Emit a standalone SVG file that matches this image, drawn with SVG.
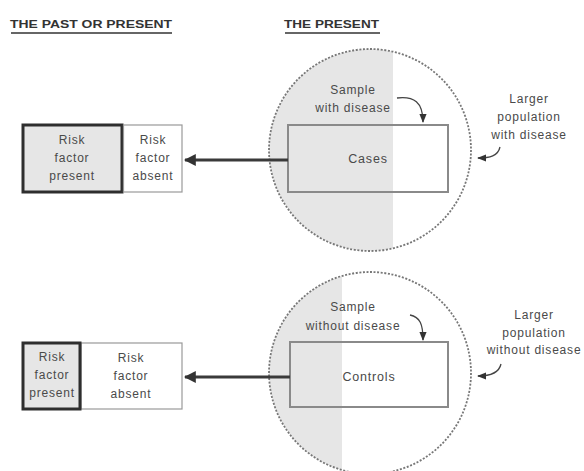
<svg xmlns="http://www.w3.org/2000/svg" width="584" height="471" viewBox="0 0 584 471">
  <style>
    .hdr { font-family: "Liberation Sans", Arial, sans-serif; font-weight: bold; font-size: 10.5px; fill: #333; }
    .ul { stroke: #666; stroke-width: 2; }
    .lbl { font-family: "Liberation Sans", Arial, sans-serif; font-size: 12px; letter-spacing: 0.8px; fill: #4a4a4a; text-anchor: middle; }
    .big { font-size: 12.5px; }
    .pop { fill: none; stroke: #777; stroke-width: 1.8; stroke-dasharray: 2 1.6; }
    .samp { fill: none; stroke: #8a8a8a; stroke-width: 2; }
    .thick { fill: #e6e6e6; stroke: #2e2e2e; stroke-width: 3; }
    .thin { fill: #fff; stroke: #999; stroke-width: 1.2; }
    .link { stroke: #3a3a3a; stroke-width: 3; fill: none; }
    .curve { stroke: #444; stroke-width: 1.3; fill: none; }
  </style>
  <defs>
    <marker id="head" viewBox="0 0 10 10" refX="9" refY="5" markerWidth="4" markerHeight="4" orient="auto">
      <path d="M0,0 L10,5 L0,10 z" fill="#333"/>
    </marker>
    <marker id="tip" viewBox="0 0 10 10" refX="9" refY="5" markerWidth="7" markerHeight="7" orient="auto">
      <path d="M0,1 L10,5 L0,9 z" fill="#333"/>
    </marker>
    <clipPath id="c1"><circle cx="370" cy="150" r="101"/></clipPath>
    <clipPath id="c2"><circle cx="370" cy="373" r="101"/></clipPath>
  </defs>

  <!-- column headings -->
  <g id="heading-past">
    <text class="hdr" x="10" y="28" textLength="162" lengthAdjust="spacingAndGlyphs">THE PAST OR PRESENT</text>
    <line class="ul" x1="11" y1="33" x2="172" y2="33"/>
  </g>
  <g id="heading-present">
    <text class="hdr" x="284" y="28" textLength="95" lengthAdjust="spacingAndGlyphs">THE PRESENT</text>
    <line class="ul" x1="285" y1="33" x2="380" y2="33"/>
  </g>

  <!-- population with disease -->
  <g id="pop-disease">
    <circle cx="370" cy="150" r="101" fill="#fff"/>
    <rect x="260" y="40" width="133" height="220" fill="#e6e6e6" clip-path="url(#c1)"/>
    <circle class="pop" cx="370" cy="150" r="101"/>
    <text class="lbl" x="353" y="94">Sample</text>
    <text class="lbl" x="353" y="112">with disease</text>
  </g>
  <g id="cases">
    <rect class="samp" x="288" y="125" width="160" height="67" fill="none"/>
    <text class="lbl big" x="368" y="163">Cases</text>
  </g>
  <g id="label-larger-disease">
    <text class="lbl" x="529" y="103">Larger</text>
    <text class="lbl" x="529" y="121">population</text>
    <text class="lbl" x="529" y="139">with disease</text>
  </g>

  <!-- population without disease -->
  <g id="pop-no-disease">
    <circle cx="370" cy="373" r="101" fill="#fff"/>
    <rect x="260" y="260" width="82" height="220" fill="#e6e6e6" clip-path="url(#c2)"/>
    <circle class="pop" cx="370" cy="373" r="101"/>
    <text class="lbl" x="353" y="311">Sample</text>
    <text class="lbl" x="353" y="330">without disease</text>
  </g>
  <g id="controls">
    <rect class="samp" x="290" y="342" width="158" height="65" fill="none"/>
    <text class="lbl big" x="369" y="381">Controls</text>
  </g>
  <g id="label-larger-no-disease">
    <text class="lbl" x="534" y="319">Larger</text>
    <text class="lbl" x="534" y="337">population</text>
    <text class="lbl" x="534" y="354">without disease</text>
  </g>

  <!-- exposure boxes, cases -->
  <g id="cases-present">
    <rect class="thick" x="23" y="125" width="99" height="67"/>
    <text class="lbl" x="72" y="144">Risk</text>
    <text class="lbl" x="72" y="162">factor</text>
    <text class="lbl" x="72" y="180">present</text>
  </g>
  <g id="cases-absent">
    <rect class="thin" x="123.5" y="125" width="58.5" height="67"/>
    <text class="lbl" x="153" y="144">Risk</text>
    <text class="lbl" x="153" y="162">factor</text>
    <text class="lbl" x="153" y="180">absent</text>
  </g>

  <!-- exposure boxes, controls -->
  <g id="controls-absent">
    <rect class="thin" x="81" y="343" width="101" height="66"/>
    <text class="lbl" x="131" y="362">Risk</text>
    <text class="lbl" x="131" y="380">factor</text>
    <text class="lbl" x="131" y="398">absent</text>
  </g>
  <g id="controls-present">
    <rect class="thick" x="23" y="343" width="57" height="66"/>
    <text class="lbl" x="52" y="361">Risk</text>
    <text class="lbl" x="52" y="379">factor</text>
    <text class="lbl" x="52" y="397">present</text>
  </g>

  <!-- connectors -->
  <g id="connectors">
    <line class="link" x1="288" y1="160" x2="185" y2="160" marker-end="url(#head)"/>
    <line class="link" x1="290" y1="377" x2="185" y2="377" marker-end="url(#head)"/>
    <path class="curve" d="M397,98 C414,96 423,102 423,122" marker-end="url(#tip)"/>
    <path class="curve" d="M410,315 C420,317 423,324 423,340" marker-end="url(#tip)"/>
    <path class="curve" d="M500,147 C498,156 490,158 478,158" marker-end="url(#tip)"/>
    <path class="curve" d="M501,364 C499,373 491,376 478,376" marker-end="url(#tip)"/>
  </g>
</svg>
